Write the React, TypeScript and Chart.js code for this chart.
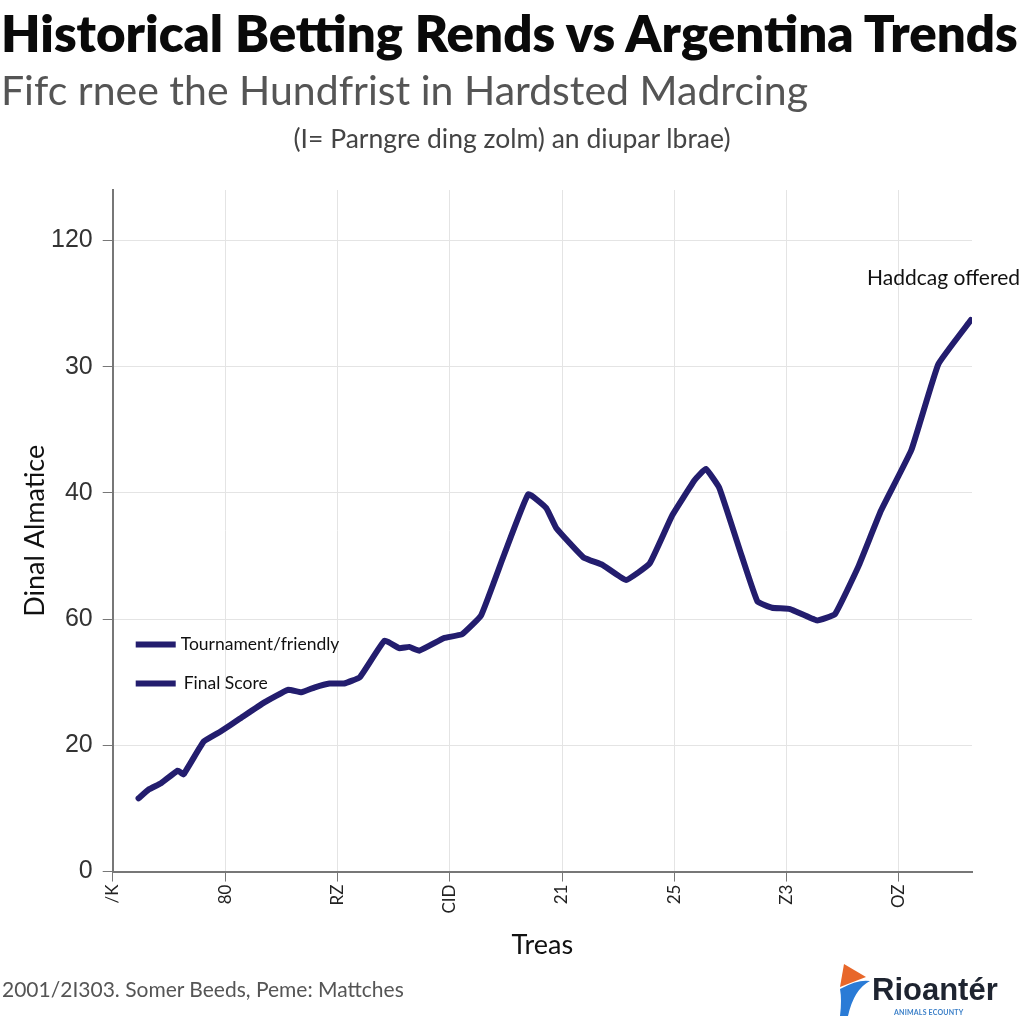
import React, { useEffect, useRef } from "react";
import { Chart, registerables } from "chart.js";

Chart.register(...registerables);

// ---- data ----
const xTickLabels = ["/K", "80", "RZ", "CID", "21", "25", "Z3", "OZ"];
const yTickLabels = ["0", "20", "60", "40", "30", "120"];
const legendLabels = ["Tournament/friendly", "Final Score"];
const seriesX = [
  0.23, 0.32, 0.43, 0.58, 0.63, 0.81, 0.96, 1.13, 1.35, 1.56, 1.68, 1.8, 1.93, 2.06, 2.2, 2.42, 2.55, 2.64,
  2.73, 2.95, 3.11, 3.28, 3.48, 3.7, 3.86, 3.95, 4.19, 4.36, 4.57, 4.78, 4.98, 5.18, 5.28, 5.4, 5.6, 5.74,
  5.87, 6.03, 6.27, 6.43, 6.64, 6.84, 7.11, 7.35, 7.64,
];
const seriesY = [
  0.58, 0.65, 0.7, 0.8, 0.77, 1.03, 1.11, 1.21, 1.34, 1.44, 1.42, 1.46, 1.49, 1.49, 1.54, 1.83, 1.77, 1.78,
  1.75, 1.85, 1.88, 2.03, 2.5, 2.99, 2.88, 2.72, 2.49, 2.43, 2.31, 2.44, 2.82, 3.1, 3.19, 3.04, 2.5, 2.14,
  2.09, 2.08, 1.99, 2.04, 2.42, 2.86, 3.34, 4.02, 4.37,
];
const annotationText = "Haddcag offered";
const annotationY = 4.7;

const LINE_COLOR = "#231d6e";
const GEO_FONT = "Lato, 'Open Sans', sans-serif";

const overlayPlugin = {
  id: "overlayText",
  afterDraw(chart: any) {
    const { ctx, chartArea, scales } = chart;
    ctx.save();
    // legend inside the plot
    chart.data.datasets.forEach((ds: any, i: number) => {
      const y = chartArea.bottom - 227 + i * 39;
      const x0 = chartArea.left + 23;
      ctx.strokeStyle = ds.borderColor;
      ctx.lineWidth = 6;
      ctx.lineCap = "butt";
      ctx.beginPath();
      ctx.moveTo(x0, y);
      ctx.lineTo(x0 + 40, y);
      ctx.stroke();
      ctx.fillStyle = "#111";
      ctx.font = `17.5px ${GEO_FONT}`;
      ctx.textBaseline = "middle";
      ctx.textAlign = "left";
      ctx.fillText(ds.label, x0 + 45 + i * 3, y);
    });
    // annotation
    ctx.fillStyle = "#111";
    ctx.font = `21px ${GEO_FONT}`;
    ctx.textAlign = "right";
    ctx.textBaseline = "middle";
    ctx.fillText(annotationText, chartArea.right + 48, scales.y.getPixelForValue(annotationY));
    ctx.restore();
  },
};

function ChartCanvas() {
  const ref = useRef<HTMLCanvasElement>(null);
  useEffect(() => {
    if (!ref.current) return;
    const chart = new Chart(ref.current, {
      type: "line",
      data: {
        datasets: [
          {
            label: legendLabels[0],
            data: seriesX.map((x, i) => ({ x, y: seriesY[i] })),
            borderColor: LINE_COLOR,
            backgroundColor: LINE_COLOR,
            borderWidth: 6,
            pointRadius: 0,
            tension: 0.1,
            fill: false,
            borderCapStyle: "round",
            borderJoinStyle: "round",
          },
          {
            label: legendLabels[1],
            data: [],
            borderColor: LINE_COLOR,
            backgroundColor: LINE_COLOR,
            borderWidth: 6,
            pointRadius: 0,
          },
        ],
      },
      options: {
        animation: false,
        responsive: false,
        devicePixelRatio: 1,
        layout: { padding: { top: 190, left: 10, right: 52, bottom: 59 } },
        plugins: {
          legend: { display: false },
          title: { display: false },
          tooltip: { enabled: false },
        },
        scales: {
          x: {
            type: "linear",
            min: 0,
            max: 7.65,
            border: { color: "#777", width: 2 },
            grid: { color: "#e4e4e4", lineWidth: 1, tickLength: 10, tickColor: "#777" },
            ticks: {
              stepSize: 1,
              includeBounds: false,
              autoSkip: false,
              maxRotation: 90,
              minRotation: 90,
              color: "#222",
              font: { size: 17, family: GEO_FONT },
              callback: (v: any) => xTickLabels[v] ?? "",
            },
            title: {
              display: true,
              text: "Treas",
              color: "#111",
              font: { size: 27, family: GEO_FONT },
              padding: { top: 12 },
            },
          },
          y: {
            type: "linear",
            min: 0,
            max: 5.4,
            border: { color: "#777", width: 2 },
            grid: { color: "#e4e4e4", lineWidth: 1, tickLength: 10, tickColor: "#777" },
            ticks: {
              stepSize: 1,
              includeBounds: false,
              color: "#333",
              padding: 10,
              font: { size: 25, family: "'Liberation Sans', Arial, sans-serif" },
              callback: (v: any) => yTickLabels[v] ?? "",
            },
            title: {
              display: true,
              text: "Dinal Almatice",
              color: "#111",
              font: { size: 27, family: GEO_FONT, lineHeight: 1 },
              padding: { top: 12, bottom: -8 },
            },
          },
        },
      },
      plugins: [overlayPlugin],
    });
    return () => chart.destroy();
  }, []);
  return <canvas ref={ref} width={1024} height={1024} style={{ position: "absolute", left: 0, top: 0 }} />;
}

export default function App() {
  return (
    <div
      style={{
        position: "absolute",
        left: 0,
        top: 0,
        width: 1024,
        height: 1024,
        background: "#fff",
        overflow: "hidden",
        fontFamily: GEO_FONT,
      }}
    >
      <ChartCanvas />
      <div
        style={{
          position: "absolute",
          left: 1,
          top: 3,
          fontSize: 51,
          fontWeight: 800,
          color: "#0a0a0a",
          whiteSpace: "nowrap",
          lineHeight: "60px",
        }}
      >
        Historical Betting Rends vs Argentina Trends
      </div>
      <div
        style={{
          position: "absolute",
          left: 1,
          top: 66,
          fontSize: 41,
          color: "#555",
          whiteSpace: "nowrap",
          lineHeight: "48px",
        }}
      >
        Fifc rnee the Hundfrist in Hardsted Madrcing
      </div>
      <div
        style={{
          position: "absolute",
          left: 0,
          width: 1024,
          top: 123,
          textAlign: "center",
          fontSize: 26.5,
          color: "#444",
          whiteSpace: "nowrap",
          lineHeight: "30px",
        }}
      >
        (I= Parngre ding zolm) an diupar lbrae)
      </div>
      <div
        style={{
          position: "absolute",
          left: 2,
          top: 976,
          fontSize: 21,
          color: "#555",
          whiteSpace: "nowrap",
          lineHeight: "26px",
        }}
      >
        2001/2I303. Somer Beeds, Peme: Mattches
      </div>
      <div style={{ position: "absolute", left: 836, top: 962, width: 188, height: 60 }}>
        <svg width="40" height="54" style={{ position: "absolute", left: 0, top: 2 }}>
          <polygon points="8,0 30,13 4,23" fill="#e8672a" />
          <path d="M4,25 Q22,15 34,17 Q18,25 12,52 L4,52 Q6,36 4,25 Z" fill="#2a7bd6" />
        </svg>
        <div
          style={{
            position: "absolute",
            left: 36,
            top: 12,
            fontSize: 31,
            fontWeight: 800,
            color: "#1e2430",
            fontFamily: "'Liberation Sans', Arial, sans-serif",
            lineHeight: "32px",
            whiteSpace: "nowrap",
          }}
        >
          Rioantér
        </div>
        <div
          style={{
            position: "absolute",
            left: 58,
            top: 46,
            fontSize: 7,
            fontWeight: 700,
            color: "#3a7fc8",
            whiteSpace: "nowrap",
            letterSpacing: 0.2,
          }}
        >
          ANIMALS ECOUNTY
        </div>
      </div>
    </div>
  );
}
